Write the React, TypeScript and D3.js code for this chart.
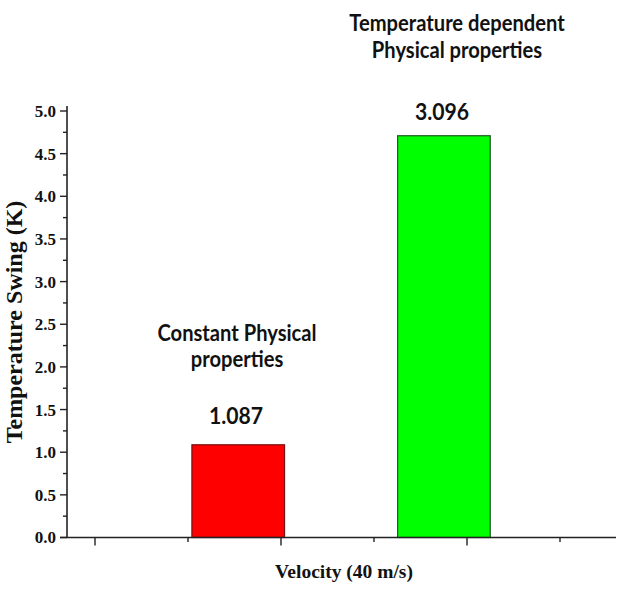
import React, { useEffect, useRef } from "react";
import * as d3 from "d3";

// ---- data ----
const categories = ["Constant Physical properties", "Temperature dependent Physical properties"];
const values = [1.087, 4.71];
const valueLabels = ["1.087", "3.096"];
const categoryLines = [
  ["Constant Physical", "properties"],
  ["Temperature dependent", "Physical properties"],
];
const barColors = ["#ff0000", "#00ff00"];
const barStrokes = ["#7a1010", "#1f5a1f"];
const yMajorTicks = [0, 0.5, 1, 1.5, 2, 2.5, 3, 3.5, 4, 4.5, 5];
const yMinorTicks = [0.25, 0.75, 1.25, 1.75, 2.25, 2.75, 3.25, 3.75, 4.25, 4.75];
const xMajorTicks = [1, 2, 3];
const xMinorTicks = [1.5, 2.5, 3.5];
const xTitle = "Velocity (40 m/s)";
const yTitle = "Temperature Swing (K)";

const W = 640;
const H = 593;

export default function App() {
  const ref = useRef<SVGSVGElement>(null);

  useEffect(() => {
    const svg = d3.select(ref.current);
    svg.selectAll("*").remove();

    const y = d3.scaleLinear().domain([0, 5]).range([537.5, 111]);
    const x = d3.scaleLinear().domain([1, 3]).range([95, 467]);
    const barCenters = [1.77, 2.876];
    const barHalf = 0.249;
    const xAxisStart = 60;
    const xAxisEnd = 616;
    const yAxisX = 67;
    const tickFont = "'Liberation Serif', 'Times New Roman', serif";
    const annFont = "Lato, 'Open Sans', sans-serif";
    const sx = 0.9;

    // bars
    svg
      .append("g")
      .selectAll("rect")
      .data(values)
      .join("rect")
      .attr("x", (_, i) => x(barCenters[i] - barHalf))
      .attr("width", (_, i) => x(barCenters[i] + barHalf) - x(barCenters[i] - barHalf))
      .attr("y", (d) => y(d))
      .attr("height", (d) => y(0) - y(d))
      .attr("fill", (_, i) => barColors[i])
      .attr("stroke", (_, i) => barStrokes[i])
      .attr("stroke-width", 1.2);

    // y axis
    const gy = svg.append("g");
    gy.append("line")
      .attr("x1", yAxisX)
      .attr("x2", yAxisX)
      .attr("y1", y(0))
      .attr("y2", 106)
      .attr("stroke", "#222")
      .attr("stroke-width", 1.6);
    gy.selectAll("line.maj")
      .data(yMajorTicks)
      .join("line")
      .attr("class", "maj")
      .attr("x1", yAxisX - 7)
      .attr("x2", yAxisX)
      .attr("y1", (d) => y(d))
      .attr("y2", (d) => y(d))
      .attr("stroke", "#222")
      .attr("stroke-width", 1.4);
    gy.selectAll("line.min")
      .data(yMinorTicks)
      .join("line")
      .attr("class", "min")
      .attr("x1", yAxisX - 4)
      .attr("x2", yAxisX)
      .attr("y1", (d) => y(d))
      .attr("y2", (d) => y(d))
      .attr("stroke", "#222")
      .attr("stroke-width", 1.4);
    gy.selectAll("text")
      .data(yMajorTicks)
      .join("text")
      .attr("x", yAxisX - 11)
      .attr("y", (d) => y(d))
      .attr("dy", "0.35em")
      .attr("text-anchor", "end")
      .attr("font-family", tickFont)
      .attr("font-weight", "bold")
      .attr("font-size", 17)
      .attr("fill", "#111")
      .text((d) => d3.format(".1f")(d));

    // x axis
    const gx = svg.append("g");
    gx.append("line")
      .attr("x1", xAxisStart)
      .attr("x2", xAxisEnd)
      .attr("y1", y(0))
      .attr("y2", y(0))
      .attr("stroke", "#222")
      .attr("stroke-width", 1.6);
    gx.selectAll("line.maj")
      .data(xMajorTicks)
      .join("line")
      .attr("class", "maj")
      .attr("x1", (d) => x(d))
      .attr("x2", (d) => x(d))
      .attr("y1", y(0))
      .attr("y2", y(0) + 8)
      .attr("stroke", "#222")
      .attr("stroke-width", 1.4);
    gx.selectAll("line.min")
      .data(xMinorTicks)
      .join("line")
      .attr("class", "min")
      .attr("x1", (d) => x(d))
      .attr("x2", (d) => x(d))
      .attr("y1", y(0))
      .attr("y2", y(0) + 4.5)
      .attr("stroke", "#222")
      .attr("stroke-width", 1.4);

    // titles
    svg
      .append("text")
      .attr("x", 344)
      .attr("y", 578)
      .attr("text-anchor", "middle")
      .attr("font-family", tickFont)
      .attr("font-weight", "bold")
      .attr("font-size", 19.5)
      .attr("fill", "#111")
      .text(xTitle);
    svg
      .append("text")
      .attr("transform", `translate(22,322) rotate(-90)`)
      .attr("text-anchor", "middle")
      .attr("font-family", tickFont)
      .attr("font-weight", "bold")
      .attr("font-size", 24)
      .attr("fill", "#111")
      .text(yTitle);

    // annotations
    const annLayout = [
      { cx: 237, lines: [340.5, 366.5], label: 424 },
      { cx: 457, lines: [30.5, 58], label: 120 },
    ];
    const labelCx = [236, 442];
    categories.forEach((_, i) => {
      const a = annLayout[i];
      categoryLines[i].forEach((ln, j) => {
        svg
          .append("text")
          .attr("transform", `translate(${a.cx},${a.lines[j]}) scale(${sx},1)`)
          .attr("text-anchor", "middle")
          .attr("font-family", annFont)
          .attr("font-weight", "bold")
          .attr("font-size", 22.4)
          .attr("fill", "#111")
          .text(ln);
      });
      svg
        .append("text")
        .attr("transform", `translate(${labelCx[i]},${a.label}) scale(${sx},1)`)
        .attr("text-anchor", "middle")
        .attr("font-family", annFont)
        .attr("font-weight", "bold")
        .attr("font-size", 23.5)
        .attr("fill", "#111")
        .text(valueLabels[i]);
    });
  }, []);

  return (
    <svg
      ref={ref}
      width={W}
      height={H}
      viewBox={`0 0 ${W} ${H}`}
      style={{ display: "block", position: "absolute", left: 0, top: 0, background: "#fff" }}
    />
  );
}
